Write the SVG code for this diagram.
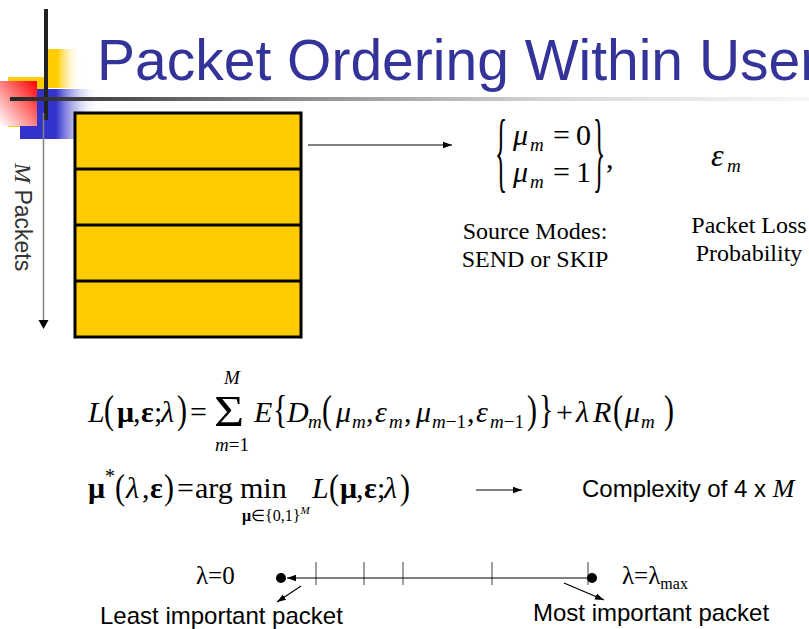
<svg xmlns="http://www.w3.org/2000/svg" width="809" height="629" viewBox="0 0 809 629">
<defs>
  <linearGradient id="gRule" x1="0" y1="0" x2="1" y2="0">
    <stop offset="0" stop-color="#262626"/>
    <stop offset="0.35" stop-color="#8c8c8c"/>
    <stop offset="0.7" stop-color="#dadada"/>
    <stop offset="1" stop-color="#f6f6f6"/>
  </linearGradient>
  <linearGradient id="gYellow" x1="0" y1="0" x2="1" y2="0">
    <stop offset="0" stop-color="#FFCC00"/>
    <stop offset="0.3" stop-color="#FFCC00"/>
    <stop offset="1" stop-color="#FFFFFF" stop-opacity="0"/>
  </linearGradient>
  <linearGradient id="gRed" x1="1" y1="0" x2="0" y2="1">
    <stop offset="0" stop-color="#FF0000"/>
    <stop offset="1" stop-color="#FFFFFF"/>
  </linearGradient>
  <linearGradient id="gBlue" x1="0" y1="0" x2="1" y2="0">
    <stop offset="0" stop-color="#3333CC"/>
    <stop offset="0.45" stop-color="#3333CC"/>
    <stop offset="1" stop-color="#FFFFFF" stop-opacity="0"/>
  </linearGradient>
  <marker id="ah" viewBox="0 0 10 10" refX="10" refY="5" markerWidth="9" markerHeight="9" markerUnits="userSpaceOnUse" orient="auto">
    <path d="M0,1.5 L10,5 L0,8.5 z" fill="#000"/>
  </marker>
</defs>
<style>
  .m { font-family: "Liberation Serif", "Times New Roman", serif; font-size: 30px; fill: #000; }
  .i { font-style: italic; }
  .b { font-weight: bold; }
  .sub { font-size: 19px; }
  .lbl { font-family: "Liberation Serif", "Times New Roman", serif; font-size: 24px; fill: #000; text-anchor: middle; }
  .sans { font-family: "Liberation Sans", Arial, sans-serif; font-size: 24px; fill: #000; }
  .title { font-family: "Liberation Sans", Tahoma, Arial, sans-serif; font-size: 57px; fill: #333399; }
  .conn { stroke: #000; stroke-width: 1.2; fill: none; }
  .tick { stroke: #808080; stroke-width: 1.5; }
</style>

<!-- corner ornament -->
<g id="ornament">
  <rect x="47" y="49" width="34" height="39" fill="url(#gYellow)"/>
  <rect x="8" y="77" width="37" height="50" fill="#FFCC00"/>
  <rect x="20" y="89" width="80" height="50" fill="url(#gBlue)"/>
  <rect x="0" y="81" width="37" height="45" fill="url(#gRed)"/>
  <rect x="44" y="9" width="4" height="111" fill="#222"/>
  <rect x="10" y="97" width="799" height="4" fill="url(#gRule)"/>
</g>

<text class="title" x="97" y="80">Packet Ordering Within User</text>

<!-- packet stack -->
<g id="packets">
  <rect x="75" y="113" width="226" height="224" fill="#FFCC00" stroke="#000" stroke-width="3"/>
  <line x1="75" y1="169" x2="301" y2="169" stroke="#000" stroke-width="3"/>
  <line x1="75" y1="225" x2="301" y2="225" stroke="#000" stroke-width="3"/>
  <line x1="75" y1="281" x2="301" y2="281" stroke="#000" stroke-width="3"/>
</g>

<g id="m-packets-label">
  <text transform="translate(15,163) rotate(90)" fill="#333"><tspan font-family="Liberation Serif, serif" font-style="italic" font-size="24">M</tspan><tspan font-family="Liberation Sans, sans-serif" font-size="23"> Packets</tspan></text>
</g>

<!-- source modes -->
<g id="source-modes">
  <text class="m" style="font-size:36px" transform="translate(495,181) scale(0.7,2.45)">{</text>
  <text class="m i" x="513" y="145">μ</text>
  <text class="m i sub" x="530" y="151">m</text>
  <text class="m" x="553" y="145">=</text>
  <text class="m" x="576" y="145">0</text>
  <text class="m i" x="513" y="182">μ</text>
  <text class="m i sub" x="530" y="188">m</text>
  <text class="m" x="553" y="182">=</text>
  <text class="m" x="576" y="182">1</text>
  <text class="m" style="font-size:36px" transform="translate(593,181) scale(0.7,2.45)">}</text>
  <text class="m" x="606" y="168">,</text>
  <text class="lbl" x="535" y="239">Source Modes:</text>
  <text class="lbl" x="535" y="267">SEND or SKIP</text>
</g>

<!-- loss probability -->
<g id="loss-prob">
  <text class="m i" style="font-size:32px" x="711" y="166">ε</text>
  <text class="m i sub" x="727" y="172">m</text>
  <text class="lbl" x="749" y="233">Packet Loss</text>
  <text class="lbl" x="749" y="261">Probability</text>
</g>

<!-- Lagrangian cost -->
<g id="cost">
  <text class="m i" x="88" y="422">L</text>
  <text class="m" transform="translate(104,423) scale(1,1.3)">(</text>
  <text class="m b" x="117" y="422">μ</text>
  <text class="m" x="133" y="422">,</text>
  <text class="m b" x="141" y="422">ε</text>
  <text class="m" x="154" y="422">;</text>
  <text class="m i" x="161" y="422">λ</text>
  <text class="m" transform="translate(177,423) scale(1,1.3)">)</text>
  <text class="m" x="190" y="422">=</text>
  <text class="m" style="font-size:45px" transform="translate(214,426) scale(1.15,1)">Σ</text>
  <text class="m i sub" x="232" y="384" text-anchor="middle">M</text>
  <text class="m sub" x="232" y="451" text-anchor="middle"><tspan font-style="italic">m</tspan>=1</text>
  <text class="m i" x="254" y="422">E</text>
  <text class="m" transform="translate(273,423) scale(1,1.3)">{</text>
  <text class="m i" x="287" y="422">D</text>
  <text class="m i sub" x="308" y="428">m</text>
  <text class="m" transform="translate(322,423) scale(1,1.3)">(</text>
  <text class="m i" x="336" y="422">μ</text>
  <text class="m i sub" x="352" y="428">m</text>
  <text class="m" x="366" y="422">,</text>
  <text class="m i" x="375" y="422">ε</text>
  <text class="m i sub" x="389" y="428">m</text>
  <text class="m" x="404" y="422">,</text>
  <text class="m i" x="416" y="422">μ</text>
  <text class="m sub" x="432" y="428"><tspan font-style="italic">m</tspan>−1</text>
  <text class="m" x="467" y="422">,</text>
  <text class="m i" x="476" y="422">ε</text>
  <text class="m sub" x="490" y="428"><tspan font-style="italic">m</tspan>−1</text>
  <text class="m" transform="translate(527,423) scale(1,1.3)">)</text>
  <text class="m" transform="translate(539,423) scale(1,1.3)">}</text>
  <text class="m" x="556" y="422">+</text>
  <text class="m i" x="576" y="422">λ</text>
  <text class="m i" x="593" y="422">R</text>
  <text class="m" transform="translate(613,423) scale(1,1.3)">(</text>
  <text class="m i" x="625" y="422">μ</text>
  <text class="m i sub" x="641" y="428">m</text>
  <text class="m" transform="translate(664,423) scale(1,1.3)">)</text>
</g>

<!-- optimal modes -->
<g id="argmin">
  <text class="m b" x="88" y="498">μ</text>
  <text class="m" style="font-size:20px" x="105" y="483">*</text>
  <text class="m" transform="translate(115,499) scale(1,1.2)">(</text>
  <text class="m i" x="126" y="498">λ</text>
  <text class="m" x="142" y="498">,</text>
  <text class="m b" x="150" y="498">ε</text>
  <text class="m" transform="translate(164,499) scale(1,1.2)">)</text>
  <text class="m" x="177" y="498">=</text>
  <text class="m" x="195" y="498">arg</text>
  <text class="m" x="240" y="498">min</text>
  <text class="m" style="font-size:16px" x="242" y="521"><tspan font-weight="bold">μ</tspan>∈{0,1}<tspan font-style="italic" style="font-size:11px" dy="-7">M</tspan></text>
  <text class="m i" x="312" y="498">L</text>
  <text class="m" transform="translate(329,499) scale(1,1.2)">(</text>
  <text class="m b" x="340" y="498">μ</text>
  <text class="m" x="356" y="498">,</text>
  <text class="m b" x="364" y="498">ε</text>
  <text class="m" x="377" y="498">;</text>
  <text class="m i" x="384" y="498">λ</text>
  <text class="m" transform="translate(400,499) scale(1,1.2)">)</text>
</g>

<g id="complexity">
  <text class="sans" x="582" y="497">Complexity of 4 x <tspan font-family="Liberation Serif, serif" font-style="italic" font-size="26">M</tspan></text>
</g>

<!-- importance scale -->
<g id="scale">
  <line class="tick" x1="316" y1="562" x2="316" y2="585"/>
  <line class="tick" x1="364" y1="562" x2="364" y2="585"/>
  <line class="tick" x1="403" y1="562" x2="403" y2="585"/>
  <line class="tick" x1="492" y1="562" x2="492" y2="585"/>
  <line class="tick" x1="588" y1="562" x2="588" y2="585"/>
  <circle cx="281" cy="578" r="5" fill="#000"/>
  <circle cx="592" cy="578" r="5" fill="#000"/>
  <text class="m" style="font-size:25px" x="196" y="584">λ=0</text>
  <text class="m" style="font-size:25px" x="622" y="584">λ=λ<tspan style="font-size:16px" dy="5">max</tspan></text>
  <text class="sans" x="100" y="624">Least important packet</text>
  <text class="sans" x="533" y="621">Most important packet</text>
</g>

<!-- connectors -->
<g id="connectors">
  <line x1="43.5" y1="113" x2="43.5" y2="320" stroke="#808080" stroke-width="1.5"/>
  <path d="M38.5,320 L48.5,320 L43.5,329 z" fill="#000"/>
  <line class="conn" x1="308" y1="145" x2="452" y2="145" marker-end="url(#ah)"/>
  <line class="conn" x1="476" y1="490" x2="522" y2="490" marker-end="url(#ah)"/>
  <line class="conn" x1="592" y1="578" x2="287" y2="578" marker-end="url(#ah)"/>
  <line class="conn" x1="301" y1="586" x2="277" y2="602" marker-end="url(#ah)"/>
  <line class="conn" x1="564" y1="583" x2="604" y2="600" marker-end="url(#ah)"/>
</g>
</svg>
